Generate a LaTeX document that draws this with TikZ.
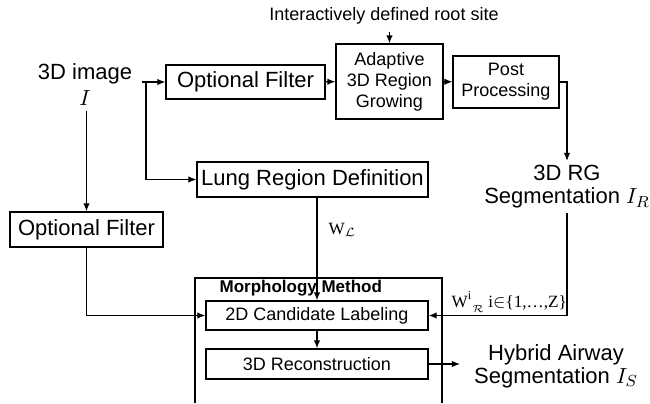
\documentclass[tikz,border=0pt]{standalone}
\usepackage{fontspec}
\setmainfont{Liberation Sans}
\newfontfamily\wfont{Liberation Serif}
\usetikzlibrary{arrows.meta, positioning, calc}

\begin{document}
\begin{tikzpicture}[x=0.5pt, y=-0.5pt, >={Latex[length=4pt,width=3.2pt]}, line width=0.6pt,
    box/.style={draw, inner sep=1pt, align=center, font=\fontsize{9}{10.5}\selectfont},
    bigbox/.style={box, font=\fontsize{11}{13}\selectfont},
    lbl/.style={align=center, inner sep=2pt, font=\fontsize{11}{11.5}\selectfont},
    wlbl/.style={anchor=west, inner sep=1pt, font=\fontsize{8.6}{10}\wfont}]
  \useasboundingbox (0,0) rectangle (650,403);
  % inputs and top row
  \node[font=\fontsize{9}{10}\selectfont] (root) at (384,16) {Interactively defined root site};
  \node[lbl, font=\fontsize{11}{13}\selectfont] (img) at (85,85) {3D image\\$I$};
  \node[bigbox, minimum width=79.5pt, minimum height=17pt] (optA) at (245.5,82) {Optional Filter};
  \node[box, minimum width=53.5pt, minimum height=37.5pt] (grow) at (389.5,81.5) {Adaptive\\3D Region\\Growing};
  \node[box, minimum width=53pt, minimum height=26pt] (post) at (506,82) {Post\\Processing};
  \node[lbl] (rg) at (567,187) {3D RG\\Segmentation $I_R$};
  % middle
  \node[bigbox, minimum width=115.5pt, minimum height=17.5pt] (lung) at (312.5,179.5) {Lung Region Definition};
  \node[bigbox, minimum width=76.5pt, minimum height=17.5pt] (optB) at (86.5,229.5) {Optional Filter};
  % morphology block
  \draw (195,403) |- (442,278) -- (442,403);
  \node[anchor=west, inner sep=0pt, font=\fontsize{8.5}{10}\bfseries] (morph) at (219,288) {Morphology Method};
  \node[box, minimum width=111pt, minimum height=14.5pt] (cand) at (317,315.5) {2D Candidate Labeling};
  \node[box, minimum width=111pt, minimum height=15pt] (recon) at (317,364) {3D Reconstruction};
  \node[lbl] (hyb) at (556,366) {Hybrid Airway\\Segmentation $I_S$};
  % labels
  \node[wlbl] (wl) at (326,230) {W$_{\mathcal{L}}$};
  \node[wlbl] (wr) at (449,302) {W\textsuperscript{i}\raisebox{-0.7ex}{$\scriptscriptstyle\mathcal{R}$} i$\in$\{1,\ldots,Z\}};
  \coordinate (tap) at (142,82);
  \coordinate (fork) at (146,82);
  \coordinate (out) at (460,364);
  % connectors
  \draw[->] (grow.north |- root.south) -- (grow.north);
  \draw[->] (tap) -- (optA);
  \draw[->] (fork) |- (lung);
  \draw[->] (optA) -- (grow);
  \draw[->] (grow) -- (post);
  \draw[->] (post.east) -| (rg.north);
  \draw[->] (rg.south) |- (cand.east);
  \draw[->] (lung.south -| cand.north) -- (cand.north);
  \draw[->] (img.south -| optB.north) -- (optB.north);
  \draw[->] (optB.south) |- (cand.west);
  \draw[->] (cand) -- (recon);
  \draw[->] (recon) -- (out);
\end{tikzpicture}
\end{document}
